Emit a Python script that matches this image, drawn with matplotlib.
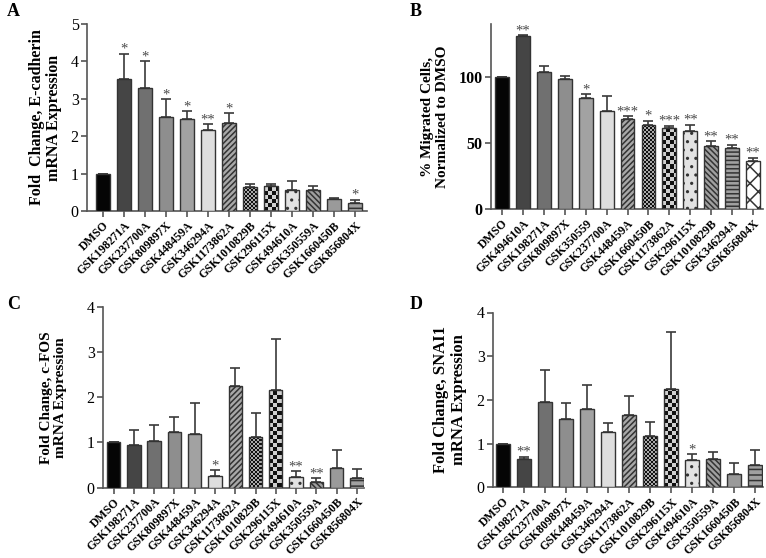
import numpy as np
import matplotlib
matplotlib.use('Agg')
import matplotlib.pyplot as plt
from matplotlib.colors import ListedColormap

plt.rcParams['font.family'] = ['Liberation Serif', 'DejaVu Serif']
plt.rcParams['hatch.linewidth'] = 1.1

# ---- data ----
names_a = ['DMSO', 'GSK198271A', 'GSK237700A', 'GSK809897X', 'GSK448459A', 'GSK346294A',
           'GSK1173862A', 'GSK1010829B', 'GSK296115X', 'GSK494610A', 'GSK350559A',
           'GSK1660450B', 'GSK856804X']
vals_a = [1.0, 3.53, 3.28, 2.51, 2.45, 2.17, 2.35, 0.63, 0.66, 0.57, 0.55, 0.31, 0.22]
tops_a = [1.0, 4.20, 4.00, 2.99, 2.67, 2.32, 2.61, 0.73, 0.72, 0.81, 0.67, 0.35, 0.30]
stars_a = ['', '*', '*', '*', '*', '**', '*', '', '', '', '', '', '*']

names_b = ['DMSO', 'GSK494610A', 'GSK198271A', 'GSK809897X', 'GSK350559', 'GSK237700A',
           'GSK448459A', 'GSK1660450B', 'GSK1173862A', 'GSK296115X', 'GSK1010829B',
           'GSK346294A', 'GSK856804X']
vals_b = [100, 130.7, 103.3, 98.5, 84.2, 73.9, 68.3, 63.3, 61.3, 58.8, 48.0, 46.2, 36.2]
tops_b = [100, 131.7, 108.5, 100.5, 87.0, 85.7, 70.4, 66.8, 63.0, 63.6, 51.3, 48.5, 38.9]
stars_b = ['', '**', '', '', '*', '', '***', '*', '***', '**', '**', '**', '**']

names_c = names_a
vals_c = [1.0, 0.94, 1.02, 1.24, 1.19, 0.26, 2.26, 1.12, 2.16, 0.24, 0.13, 0.43, 0.22]
tops_c = [1.0, 1.27, 1.39, 1.56, 1.88, 0.38, 2.64, 1.64, 3.29, 0.36, 0.21, 0.84, 0.41]
stars_c = ['', '', '', '', '', '*', '', '', '', '**', '**', '', '']

names_d = names_a
vals_d = [1.0, 0.65, 1.95, 1.56, 1.80, 1.26, 1.66, 1.18, 2.24, 0.62, 0.65, 0.30, 0.50]
tops_d = [1.0, 0.70, 2.68, 1.93, 2.35, 1.48, 2.08, 1.49, 3.56, 0.76, 0.80, 0.55, 0.85]
stars_d = ['', '**', '', '', '', '', '', '', '', '*', '', '', '']

# ---- bar looks by position ----
looks_acd = [('solid', '#050505'), ('solid', '#454545'), ('solid', '#707070'),
             ('solid', '#8e8e8e'), ('solid', '#a2a2a2'), ('solid', '#dedede'),
             ('hatch', '#a8a8a8', '//////'), ('check', 2, '#111111', '#aaaaaa'),
             ('check', 4, '#111111', '#d0d0d0'), ('hatch', '#e2e2e2', '..'),
             ('hatch', '#a0a0a0', '\\\\\\\\\\\\'), ('solid', '#9a9a9a'),
             ('hatch', '#a0a0a0', '---')]
looks_b = looks_acd[:11] + [('hatch', '#a0a0a0', '----'), ('hatch', 'white', 'xx')]

W, H = 766, 558
fig = plt.figure(figsize=(W / 100, H / 100), dpi=100)


def add_axes_px(left, right, top, bottom):
    rect = [left / W, 1 - bottom / H, (right - left) / W, (bottom - top) / H]
    return fig.add_axes(rect), (right - left, bottom - top)


def draw_panel(ax, size_px, names, vals, tops, stars, looks, ymax, yticks, xlim,
               ylabel, labelpad, bold_ticks=False, lab_size=11):
    x = np.arange(len(names))
    vals = np.array(vals, dtype=float)
    tops = np.array(tops, dtype=float)
    ax.errorbar(x, vals, yerr=[np.zeros(len(vals)), tops - vals], fmt='none',
                ecolor='#3a3a3a', elinewidth=1.2, capsize=3.5, capthick=1.2, zorder=1)
    bars = ax.bar(x, vals, width=0.66, color='white', edgecolor='#333333',
                  linewidth=1.0, zorder=3)
    pxx = size_px[0] / (xlim[1] - xlim[0])
    pxy = size_px[1] / ymax
    for b, look in zip(bars, looks):
        if look[0] == 'solid':
            b.set_facecolor(look[1])
        elif look[0] == 'hatch':
            b.set_facecolor(look[1])
            b.set_hatch(look[2])
        else:
            cell, c1, c2 = look[1], look[2], look[3]
            b.set_facecolor('none')
            cw, ch = cell / pxx, cell / pxy
            nc = int(np.ceil(b.get_width() / cw)) + 1
            nr = int(np.ceil(b.get_height() / ch)) + 1
            grid = (np.add.outer(np.arange(nr), np.arange(nc)) % 2).astype(float)
            x0 = b.get_x()
            im = ax.imshow(grid, cmap=ListedColormap([c1, c2]), origin='lower',
                           extent=(x0, x0 + nc * cw, 0, nr * ch), aspect='auto',
                           interpolation='nearest', zorder=2)
            im.set_clip_path(b)
    for xi, t, s in zip(x, tops, stars):
        if s:
            ax.annotate(s, xy=(xi, t), xytext=(0, -1.5), textcoords='offset points',
                        ha='center', va='bottom', fontsize=10.5, color='#4a4a4a',
                        annotation_clip=False)
    ax.set_xlim(*xlim)
    ax.set_ylim(0, ymax)
    ax.set_yticks(yticks)
    ax.set_xticks(x)
    ax.set_xticklabels(names, rotation=45, ha='right', rotation_mode='anchor',
                       fontweight='bold', fontsize=8.6)
    for lab in ax.get_yticklabels():
        lab.set_fontsize(11.5)
        if bold_ticks:
            lab.set_fontweight('bold')
    for side in ['top', 'right']:
        ax.spines[side].set_visible(False)
    for side in ['left', 'bottom']:
        ax.spines[side].set_color('#555555')
        ax.spines[side].set_linewidth(1.2)
    ax.tick_params(direction='out', length=4, width=1.2, color='#555555', pad=2)
    ax.set_ylabel(ylabel, fontweight='bold', fontsize=lab_size, labelpad=labelpad,
                  linespacing=1.15)


ax_a, sz_a = add_axes_px(87, 367, 24, 211)
draw_panel(ax_a, sz_a, names_a, vals_a, tops_a, stars_a, looks_acd, 5,
           [0, 1, 2, 3, 4, 5], (-0.75, 12.57),
           'Fold  Change, E-cadherin\nmRNA Expression', 6, lab_size=11.5)

ax_b, sz_b = add_axes_px(491, 763, 24, 209)
draw_panel(ax_b, sz_b, names_b, vals_b, tops_b, stars_b, looks_b, 140,
           [0, 50, 100], (-0.53, 12.48),
           '% Migrated Cells,\nNormalized to DMSO', 7, bold_ticks=True)

ax_c, sz_c = add_axes_px(103, 364, 307, 487.5)
draw_panel(ax_c, sz_c, names_c, vals_c, tops_c, stars_c, looks_acd, 4,
           [0, 1, 2, 3, 4], (-0.52, 12.35),
           'Fold Change, c-FOS\nmRNA Expression', 14)

ax_d, sz_d = add_axes_px(493, 763, 312.5, 487.3)
draw_panel(ax_d, sz_d, names_d, vals_d, tops_d, stars_d, looks_acd, 4,
           [0, 1, 2, 3, 4], (-0.48, 12.36),
           'Fold Change, SNAI1\nmRNA Expression', 7, lab_size=12)

for letter, px, py in [('A', 7, 16), ('B', 410, 16), ('C', 7, 309), ('D', 410, 309)]:
    fig.text(px / W, 1 - py / H, letter, fontsize=13, fontweight='bold',
             ha='left', va='baseline')

fig.savefig('out.png', dpi=100)
